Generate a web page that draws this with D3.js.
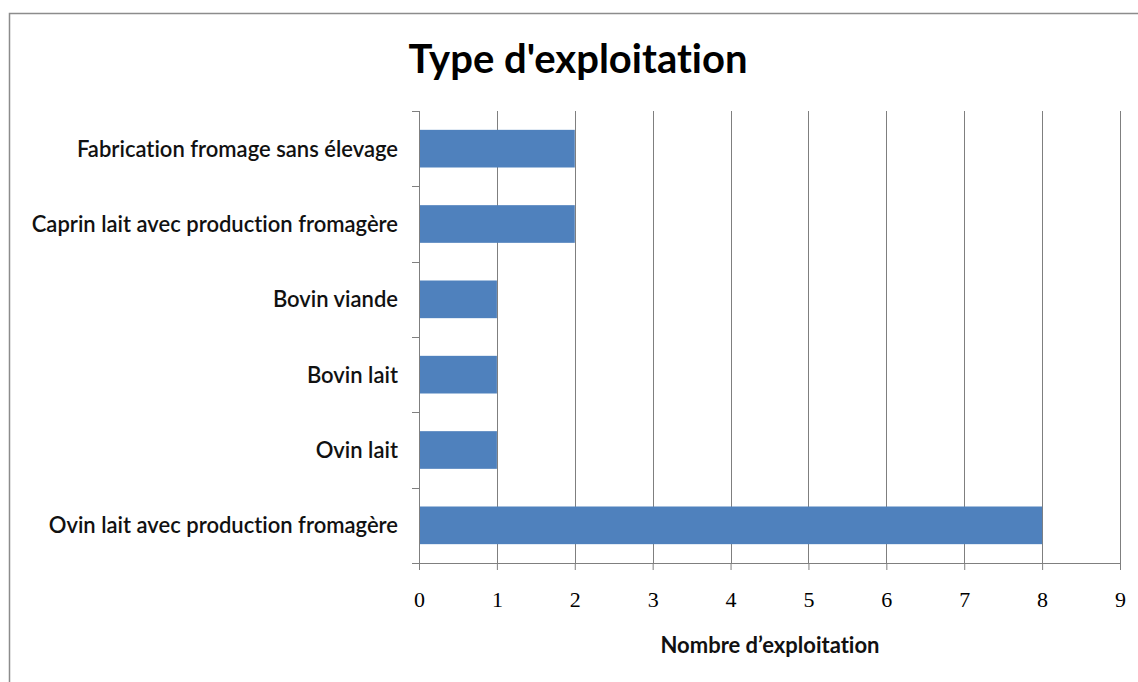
<!DOCTYPE html>
<html>
<head>
<meta charset="utf-8">
<script src="https://cdn.jsdelivr.net/npm/d3@7"></script>
<style>
  html, body { margin: 0; padding: 0; background: #fff; }
  svg { display: block; }
  text { font-variant-ligatures: none; }
</style>
</head>
<body>
<svg id="chart" width="1138" height="682"></svg>
<script>
// Farm types, listed top to bottom
const categories = [
  "Fabrication fromage sans élevage",
  "Caprin lait avec production fromagère",
  "Bovin viande",
  "Bovin lait",
  "Ovin lait",
  "Ovin lait avec production fromagère"
];
const counts = [2, 2, 1, 1, 1, 8];
const xTicks = [0, 1, 2, 3, 4, 5, 6, 7, 8, 9];

const chartTitle = "Type d'exploitation";
const xAxisTitle = "Nombre d’exploitation";

const svg = d3.select("#chart");
const W = 1138, H = 682;
const plot = { left: 419, right: 1120, top: 111, bottom: 563 };

const labelFont = "Lato, 'Open Sans', sans-serif";

// Outer chart frame
svg.append("rect")
  .attr("x", 9.5).attr("y", 13.5)
  .attr("width", W + 20).attr("height", H + 20)
  .attr("fill", "#fff")
  .attr("stroke", "#8c8c8c")
  .attr("stroke-width", 1.5);

const x = d3.scaleLinear().domain([0, 9]).range([plot.left, plot.right]);
const y = d3.scaleBand().domain(categories).range([plot.top, plot.bottom])
  .paddingInner(0.5).paddingOuter(0.25);

// Vertical gridlines
svg.append("g")
  .selectAll("line")
  .data(xTicks.filter(t => t > 0))
  .join("line")
  .attr("x1", d => Math.round(x(d)) + 0.5)
  .attr("x2", d => Math.round(x(d)) + 0.5)
  .attr("y1", plot.top)
  .attr("y2", plot.bottom)
  .attr("stroke", "#7f7f7f")
  .attr("stroke-width", 1);

// Bars
svg.append("g")
  .selectAll("rect")
  .data(categories)
  .join("rect")
  .attr("x", x(0))
  .attr("y", d => y(d))
  .attr("width", (d, i) => x(counts[i]) - x(0))
  .attr("height", y.bandwidth())
  .attr("fill", "#4f81bd");

// Category axis with ticks between bands
const catEdges = d3.range(categories.length + 1).map(i => plot.top + i * y.step());
const yAxis = svg.append("g");
yAxis.append("line")
  .attr("x1", plot.left + 0.5).attr("x2", plot.left + 0.5)
  .attr("y1", plot.top).attr("y2", plot.bottom)
  .attr("stroke", "#7f7f7f");
yAxis.selectAll("line.tick")
  .data(catEdges)
  .join("line")
  .attr("class", "tick")
  .attr("x1", plot.left - 7).attr("x2", plot.left)
  .attr("y1", d => Math.round(d) + 0.5).attr("y2", d => Math.round(d) + 0.5)
  .attr("stroke", "#7f7f7f");
yAxis.selectAll("text")
  .data(categories)
  .join("text")
  .attr("x", plot.left - 21)
  .attr("y", d => y(d) + y.bandwidth() / 2)
  .attr("dy", "0.36em")
  .attr("text-anchor", "end")
  .attr("font-family", labelFont)
  .attr("font-size", 22)
  .attr("font-weight", 600)
  .attr("fill", "#111")
  .text(d => d);

// Value axis
const xAxis = d3.axisBottom(x).tickValues(xTicks).tickSize(7).tickPadding(21);
const gx = svg.append("g")
  .attr("transform", `translate(0,${plot.bottom})`)
  .call(xAxis);
gx.select(".domain").remove();
gx.append("line")
  .attr("x1", plot.left - 7).attr("x2", plot.right)
  .attr("y1", 0.5).attr("y2", 0.5)
  .attr("stroke", "#7f7f7f");
gx.selectAll(".tick line").attr("stroke", "#7f7f7f");
gx.selectAll(".tick text")
  .attr("font-family", "'Liberation Serif', 'DejaVu Serif', serif")
  .attr("font-size", 22)
  .attr("fill", "#000");

// Titles
svg.append("text")
  .attr("x", 578).attr("y", 73)
  .attr("text-anchor", "middle")
  .attr("font-family", labelFont)
  .attr("font-size", 40)
  .attr("font-weight", 700)
  .attr("fill", "#000")
  .text(chartTitle);

svg.append("text")
  .attr("x", 770).attr("y", 653)
  .attr("text-anchor", "middle")
  .attr("font-family", labelFont)
  .attr("font-size", 22)
  .attr("font-weight", 700)
  .attr("fill", "#111")
  .text(xAxisTitle);
</script>
</body>
</html>
